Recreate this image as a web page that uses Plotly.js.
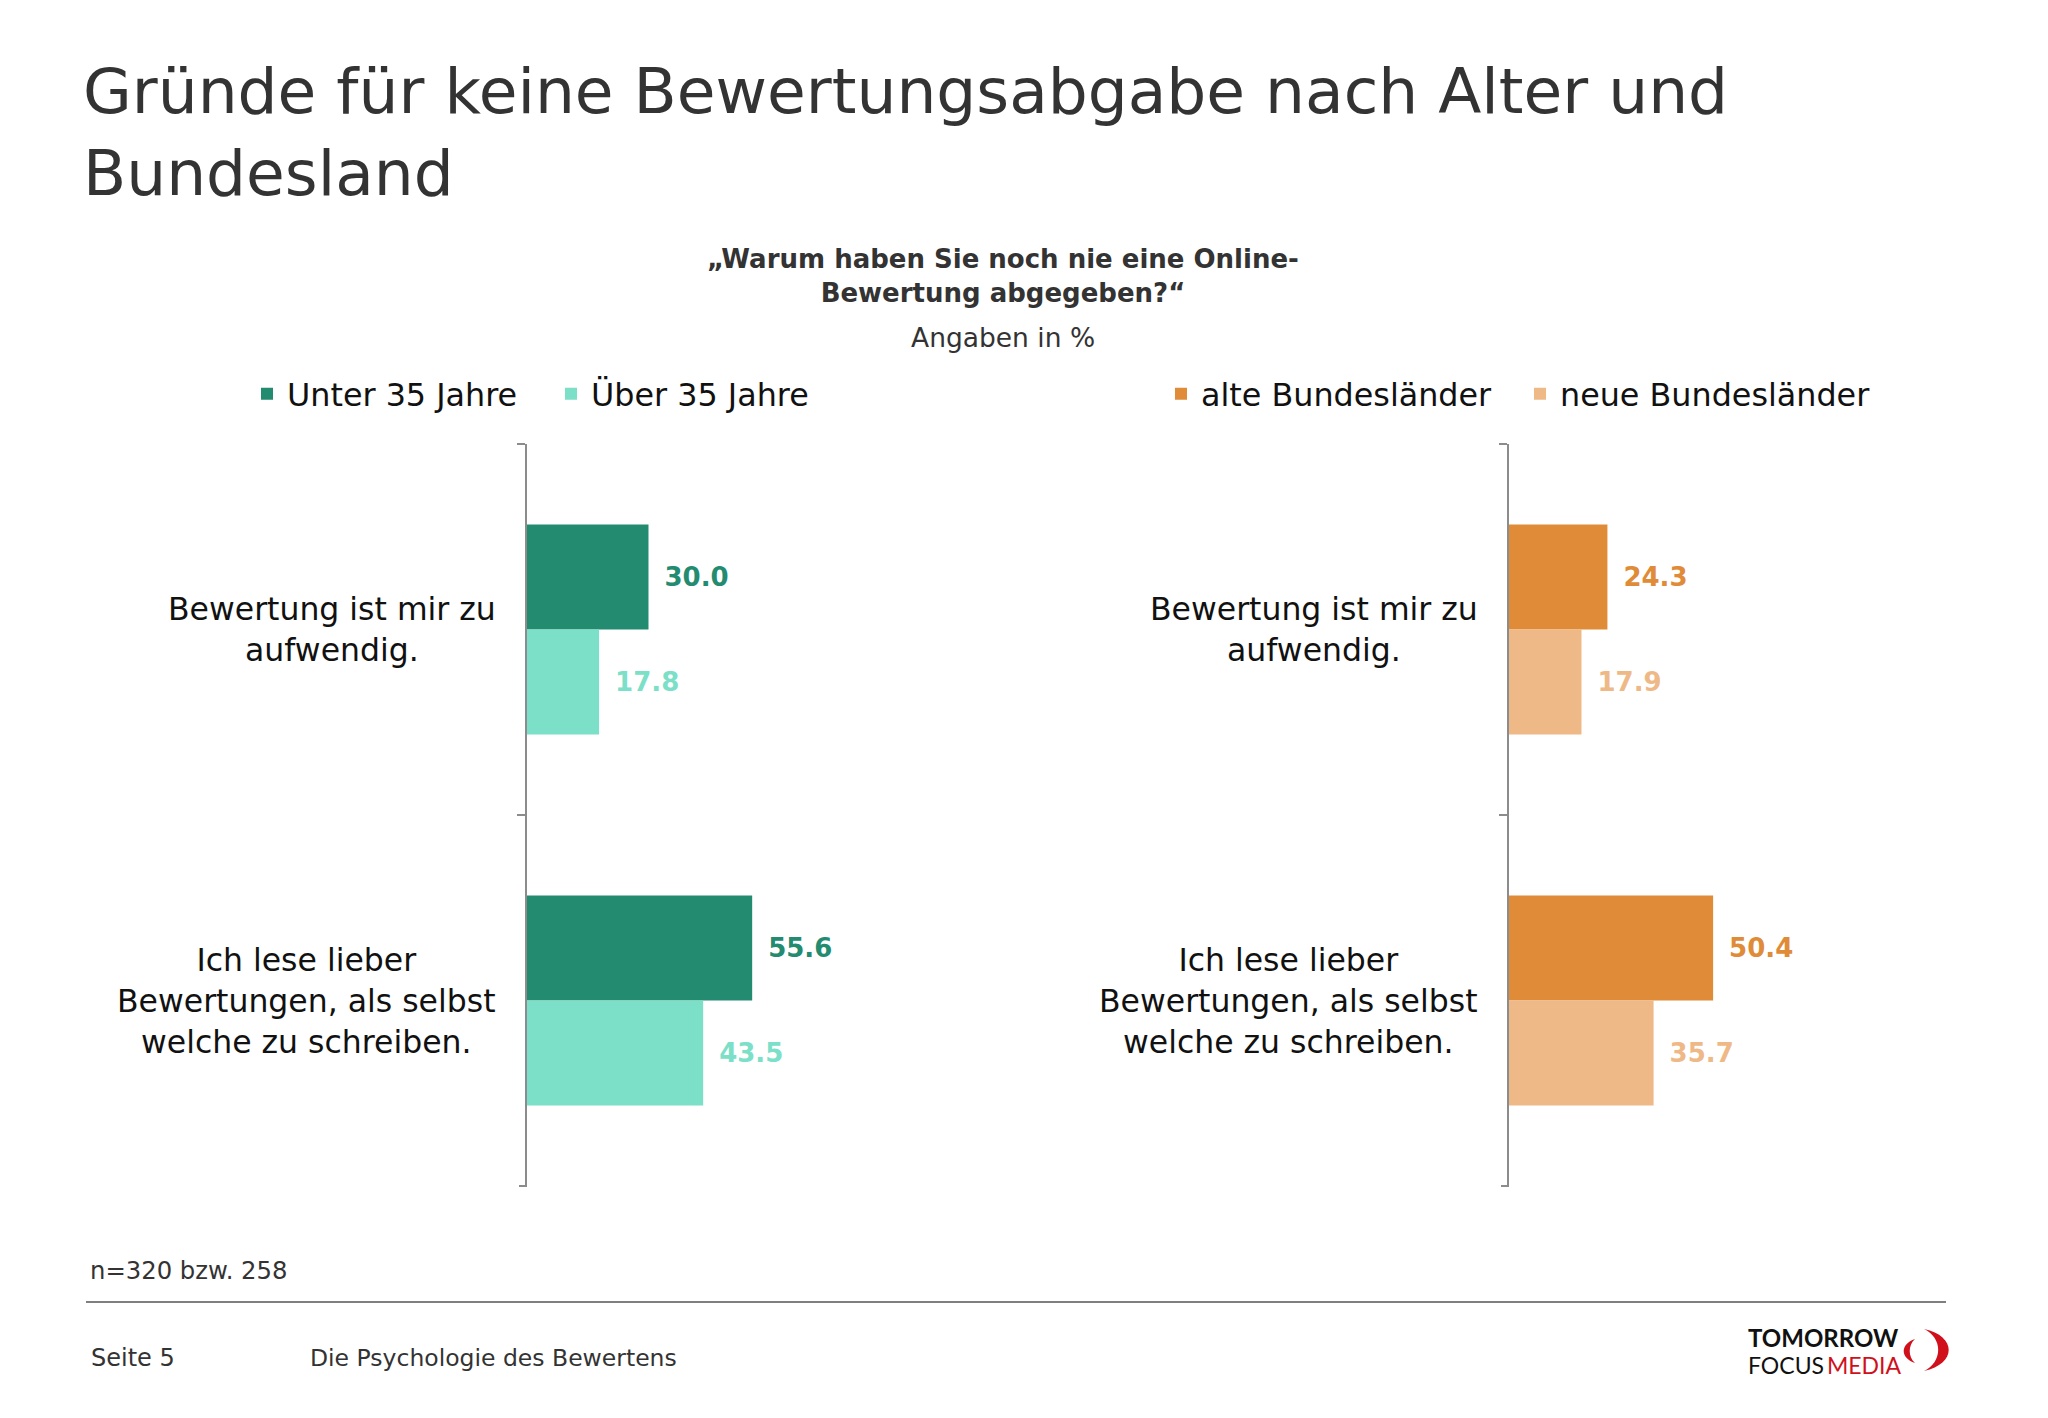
<!DOCTYPE html>
<html>
<head>
<meta charset="utf-8">
<script src="https://cdn.plot.ly/plotly-3.0.1.min.js"></script>
<style>html,body{margin:0;padding:0;background:#fff;}#chart{width:2048px;height:1418px;}</style>
</head>
<body>
<div id="chart"></div>
<script>
// ---- data ----
const categories = ['Bewertung ist mir zu<br>aufwendig.', 'Ich lese lieber<br>Bewertungen, als selbst<br>welche zu schreiben.'];
const seriesAge = ['Unter 35 Jahre', 'Über 35 Jahre'];
const under35 = [30.0, 55.6];
const over35 = [17.8, 43.5];
const seriesRegion = ['alte Bundesländer', 'neue Bundesländer'];
const oldStates = [24.3, 50.4];
const newStates = [17.9, 35.7];

const W = 2048, H = 1418;
const px = x => x / W;
const py = y => 1 - y / H;
const FONT = 'DejaVu Sans';
const AXIS_COLOR = '#8c8c8c';
const colors = {dark:'#238b70', light:'#7be0c7', orange:'#e08b38', peach:'#eeb987'};

function barTrace(name, vals, color, xa, ya, legend) {
  return {
    type: 'bar', orientation: 'h', name: name,
    x: vals, y: categories, xaxis: xa, yaxis: ya, legend: legend,
    marker: {color: color, line: {width: 0}},
    texttemplate: '\u2002%{x:.1f}', textposition: 'outside', cliponaxis: false,
    constraintext: 'none',
    textfont: {family: FONT, size: 26, color: color, weight: 'bold'},
    hoverinfo: 'x+y'
  };
}

const data = [
  barTrace(seriesAge[0], under35, colors.dark, 'x', 'y', 'legend'),
  barTrace(seriesAge[1], over35, colors.light, 'x', 'y', 'legend2'),
  barTrace(seriesRegion[0], oldStates, colors.orange, 'x2', 'y2', 'legend3'),
  barTrace(seriesRegion[1], newStates, colors.peach, 'x2', 'y2', 'legend4')
];

const yAxisBase = {
  type: 'category', range: [1.5, -0.5], autorange: false, domain: [py(1186), py(444)],
  showline: true, linecolor: AXIS_COLOR, linewidth: 2,
  ticks: 'outside', ticklen: 8, tickwidth: 2, tickcolor: AXIS_COLOR, tickson: 'boundaries',
  showticklabels: false, showgrid: false, zeroline: false, fixedrange: true
};
const xAxisBase = {range: [0, 100], visible: false, fixedrange: true};

const annotations = [];
categories.forEach((c, i) => {
  [['x domain','y'], ['x2 domain','y2']].forEach(([xr, yr]) => {
    annotations.push({xref: xr, yref: yr, x: 0, y: i, xanchor: 'right', yanchor: 'middle',
      xshift: -29, align: 'center', showarrow: false, text: c,
      font: {family: FONT, size: 31.5, color: '#111'}});
  });
});

annotations.push(
  {xref:'paper', yref:'paper', x: px(1003), y: py(276), xanchor:'center', yanchor:'middle', showarrow:false,
   text:'„Warum haben Sie noch nie eine Online-<br>Bewertung abgegeben?“', align:'center',
   font:{family:FONT, size:26, color:'#333', weight:'bold'}},
  {xref:'paper', yref:'paper', x: px(1003), y: py(338), xanchor:'center', yanchor:'middle', showarrow:false,
   text:'Angaben in %', font:{family:FONT, size:26.5, color:'#333'}},
  {xref:'paper', yref:'paper', x: px(88), y: py(1270), xanchor:'left', yanchor:'middle', showarrow:false,
   text:'n=320 bzw. 258', font:{family:FONT, size:24.3, color:'#333'}},
  {xref:'paper', yref:'paper', x: px(89), y: py(1358), xanchor:'left', yanchor:'middle', showarrow:false,
   text:'Seite 5', font:{family:FONT, size:24, color:'#333'}},
  {xref:'paper', yref:'paper', x: px(308), y: py(1358), xanchor:'left', yanchor:'middle', showarrow:false,
   text:'Die Psychologie des Bewertens', font:{family:FONT, size:23.5, color:'#333'}},
  {xref:'paper', yref:'paper', x: px(1746), y: py(1337), xanchor:'left', yanchor:'middle', showarrow:false,
   text:'TOMORROW', font:{family:'Lato', size:24, color:'#111', weight:'bold'}},
  {xref:'paper', yref:'paper', x: px(1746), y: py(1365), xanchor:'left', yanchor:'middle', showarrow:false,
   text:'FOCUS\u2009<span style="color:#d0101b">MEDIA</span>', font:{family:'Lato', size:23, color:'#111'}}
);

const P = (x, y) => px(x).toFixed(5) + ',' + py(y).toFixed(5);
const shapes = [
  {type:'line', xref:'paper', yref:'paper', x0:px(86), x1:px(1946), y0:py(1302), y1:py(1302),
   line:{color:'#555', width:1.5}},
  {type:'path', xref:'paper', yref:'paper', fillcolor:'#d0101b', line:{width:0},
   path:'M' + P(1924,1329) + ' C' + P(1957,1336) + ' ' + P(1957,1364) + ' ' + P(1924,1371) +
        ' C' + P(1943,1362) + ' ' + P(1943,1338) + ' ' + P(1924,1329) + ' Z'},
  {type:'path', xref:'paper', yref:'paper', fillcolor:'#d0101b', line:{width:0},
   path:'M' + P(1915,1339) + ' C' + P(1900,1344) + ' ' + P(1900,1358) + ' ' + P(1915,1363) +
        ' C' + P(1908,1357) + ' ' + P(1908,1345) + ' ' + P(1915,1339) + ' Z'}
];
// closing boundary tick at the bottom end of each category axis
['x', 'x2'].forEach((xa, k) => {
  shapes.push({type:'line', xref: xa + ' domain', yref: (k ? 'y2' : 'y') + ' domain',
    xsizemode:'pixel', xanchor: 0, x0: -8, x1: 0, y0: 0, y1: 0,
    line:{color: AXIS_COLOR, width: 2}});
});

function legendAt(x) {
  return {orientation:'h', x: px(x), xanchor:'left', y: py(394), yanchor:'middle',
    font:{family:FONT, size:31.8, color:'#111'}, bgcolor:'rgba(0,0,0,0)'};
}

const layout = {
  width: W, height: H, margin: {l:0, r:0, t:0, b:0},
  paper_bgcolor: '#fff', plot_bgcolor: 'rgba(0,0,0,0)',
  title: {text: 'Gründe für keine Bewertungsabgabe nach Alter und<br>Bundesland',
    font: {family: FONT, size: 63, color: '#333'},
    x: px(83), xanchor: 'left', xref: 'container', y: py(113), yanchor: 'top', yref: 'container'},
  barmode: 'group', bargap: 0.434, bargroupgap: 0,
  showlegend: true,
  legend: legendAt(247),
  legend2: legendAt(551),
  legend3: legendAt(1161),
  legend4: legendAt(1520),
  xaxis: Object.assign({}, xAxisBase, {domain:[px(527), px(932)], anchor:'y'}),
  yaxis: Object.assign({}, yAxisBase, {anchor:'x'}),
  xaxis2: Object.assign({}, xAxisBase, {domain:[px(1509), px(1914)], anchor:'y2'}),
  yaxis2: Object.assign({}, yAxisBase, {anchor:'x2'}),
  annotations: annotations, shapes: shapes
};

Plotly.newPlot('chart', data, layout, {displayModeBar: false, staticPlot: true});
</script>
</body>
</html>
